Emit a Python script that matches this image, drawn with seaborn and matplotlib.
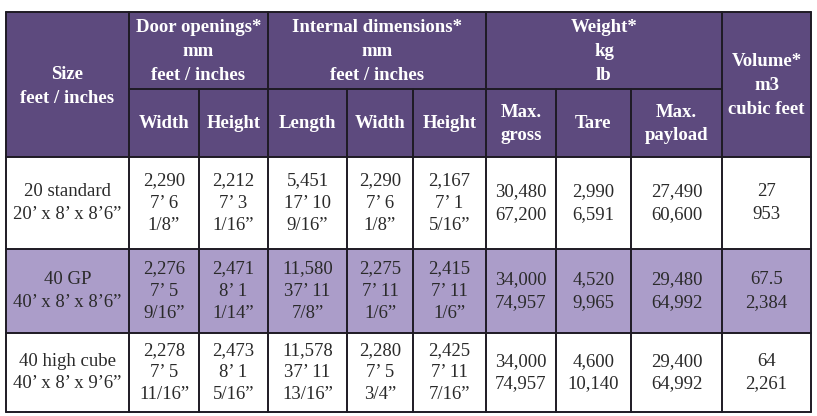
import matplotlib
matplotlib.use("Agg")
import matplotlib.pyplot as plt
import seaborn as sns
from matplotlib.patches import Rectangle

# Table content
sizes = ["20 standard\n20’ x 8’ x 8’6”", "40 GP\n40’ x 8’ x 8’6”", "40 high cube\n40’ x 8’ x 9’6”"]
door_width = ["2,290\n7’ 6\n1/8”", "2,276\n7’ 5\n9/16”", "2,278\n7’ 5\n11/16”"]
door_height = ["2,212\n7’ 3\n1/16”", "2,471\n8’ 1\n1/14”", "2,473\n8’ 1\n5/16”"]
int_length = ["5,451\n17’ 10\n9/16”", "11,580\n37’ 11\n7/8”", "11,578\n37’ 11\n13/16”"]
int_width = ["2,290\n7’ 6\n1/8”", "2,275\n7’ 11\n1/6”", "2,280\n7’ 5\n3/4”"]
int_height = ["2,167\n7’ 1\n5/16”", "2,415\n7’ 11\n1/6”", "2,425\n7’ 11\n7/16”"]
max_gross = ["30,480\n67,200", "34,000\n74,957", "34,000\n74,957"]
tare = ["2,990\n6,591", "4,520\n9,965", "4,600\n10,140"]
max_payload = ["27,490\n60,600", "29,480\n64,992", "29,400\n64,992"]
volume = ["27\n953", "67.5\n2,384", "64\n2,261"]

groups = ["Door openings*\nmm\nfeet / inches", "Internal dimensions*\nmm\nfeet / inches", "Weight*\nkg\nlb"]
group_spans = [(1, 3), (3, 6), (6, 9)]
sub_headers = ["Width", "Height", "Length", "Width", "Height", "Max.\ngross", "Tare", "Max.\npayload"]
size_header = "Size\nfeet / inches"
volume_header = "Volume*\nm3\ncubic feet"

columns = [sizes, door_width, door_height, int_length, int_width,
           int_height, max_gross, tare, max_payload, volume]

# layout (pixel grid)
col_x = [6, 129, 199, 268, 347, 413, 486, 556, 631, 722, 811]
row_y = [12, 89, 157, 249, 333, 412]

header_color = "#5d4a7e"
band_color = "#ab9dc9"
line_color = "#1e1a24"

sns.set_theme(style="white")
plt.rcParams["font.family"] = ["Liberation Serif", "DejaVu Serif"]

fig = plt.figure(figsize=(8.17, 4.16), dpi=100)
ax = fig.add_axes([0, 0, 1, 1])
ax.set_xlim(0, 817)
ax.set_ylim(416, 0)
ax.axis("off")

# header background
ax.add_patch(Rectangle((col_x[0], row_y[0]), col_x[-1] - col_x[0], row_y[2] - row_y[0],
                       facecolor=header_color, edgecolor="none"))
# body rows
row_fill = ["white", band_color, "white"]
for r in range(3):
    ax.add_patch(Rectangle((col_x[0], row_y[r + 2]), col_x[-1] - col_x[0],
                           row_y[r + 3] - row_y[r + 2], facecolor=row_fill[r], edgecolor="none"))

hdr = dict(color="white", fontweight="bold", ha="center", va="center", linespacing=1.5)

# header texts
ax.text((col_x[0] + col_x[1]) / 2, (row_y[0] + row_y[2]) / 2 + 2, size_header, fontsize=13.5, **hdr)
ax.text((col_x[9] + col_x[10]) / 2, (row_y[0] + row_y[2]) / 2 + 1, volume_header, fontsize=13.5, **hdr)
for label, (a, b) in zip(groups, group_spans):
    ax.text((col_x[a] + col_x[b]) / 2, (row_y[0] + row_y[1]) / 2 + 1, label, fontsize=13.5, **hdr)
for i, label in enumerate(sub_headers):
    ax.text((col_x[i + 1] + col_x[i + 2]) / 2, (row_y[1] + row_y[2]) / 2 + 1, label, fontsize=13.5, **hdr)

# body texts
for c, col in enumerate(columns):
    for r, val in enumerate(col):
        ax.text((col_x[c] + col_x[c + 1]) / 2, (row_y[r + 2] + row_y[r + 3]) / 2, val,
                fontsize=13.5, color="#2a2a2a", ha="center", va="center", linespacing=1.4)

# grid lines
lw = 1.4
ax.plot([col_x[0], col_x[-1]], [row_y[0], row_y[0]], color=line_color, lw=lw)
ax.plot([col_x[1], col_x[9]], [row_y[1], row_y[1]], color=line_color, lw=lw)
for y in row_y[2:]:
    ax.plot([col_x[0], col_x[-1]], [y, y], color=line_color, lw=lw)
full_height = (col_x[0], col_x[1], col_x[3], col_x[6], col_x[9], col_x[10])
for x in col_x:
    top = row_y[0] if x in full_height else row_y[1]
    ax.plot([x, x], [top, row_y[-1]], color=line_color, lw=lw)

fig.savefig("out.png", dpi=100)
